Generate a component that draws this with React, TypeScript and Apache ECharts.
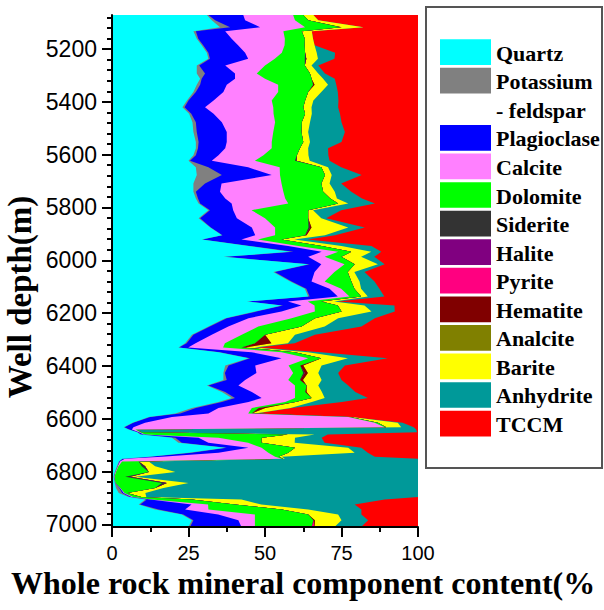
import React, { useEffect, useRef } from 'react';
import * as echarts from 'echarts';

// ---------- data ----------
const minerals = ['Quartz', 'Potassium - feldspar', 'Plagioclase', 'Calcite', 'Dolomite', 'Siderite', 'Halite', 'Pyrite', 'Hematite', 'Analcite', 'Barite', 'Anhydrite', 'TCCM'];
const legendLabels = ['Quartz', 'Potassium\n- feldspar', 'Plagioclase', 'Calcite', 'Dolomite', 'Siderite', 'Halite', 'Pyrite', 'Hematite', 'Analcite', 'Barite', 'Anhydrite', 'TCCM'];
const colors = ['#00FFFF', '#808080', '#0000FF', '#FF80FF', '#00FF00', '#333333', '#800080', '#FF0080', '#800000', '#808000', '#FFFF00', '#009999', '#FF0000'];

const depth = [
  5071, 5091, 5117, 5133, 5161, 5186, 5214, 5237, 5262, 5293,
  5312, 5335, 5363, 5395, 5420, 5445, 5477, 5514, 5552, 5576,
  5602, 5623, 5648, 5677, 5709, 5740, 5766, 5785, 5810, 5841,
  5876, 5905, 5921, 5946, 5968, 5987, 6015, 6044, 6080, 6108,
  6137, 6156, 6171, 6194, 6219, 6251, 6282, 6314, 6330, 6348,
  6371, 6398, 6427, 6453, 6474, 6499, 6521, 6537, 6559, 6580,
  6593, 6615, 6632, 6641, 6651, 6660, 6672, 6691, 6710, 6729,
  6744, 6752, 6762, 6780, 6802, 6820, 6843, 6862, 6881, 6896,
  6906, 6925, 6944, 6963, 6984, 7010,
];

const quartz = [
  31.0, 32.6, 35.3, 26.6, 27.7, 29.3, 31.0, 31.5, 27.7, 27.7,
  28.8, 27.7, 26.6, 24.5, 23.0, 25.2, 26.3, 26.6, 27.4, 27.4,
  26.6, 25.0, 27.4, 27.7, 26.6, 26.6, 27.4, 28.3, 31.5, 28.3,
  32.1, 35.9, 29.3, 44.6, 58.2, 36.4, 64.1, 52.7, 58.2, 63.0,
  64.1, 44.0, 55.4, 46.7, 37.0, 31.5, 26.1, 23.9, 21.7, 34.8,
  44.6, 37.0, 36.4, 36.4, 31.0, 35.9, 39.1, 34.8, 26.1, 20.7,
  12.0, 6.7, 3.8, 5.4, 8.2, 9.2, 19.6, 21.7, 37.0, 25.0,
  12.0, 3.3, 2.2, 1.6, 0.9, 0.5, 0.9, 1.3, 2.2, 5.4,
  10.9, 8.7, 14.1, 22.8, 26.1, 25.0,
];
const kFeldspar = [
  0.5, 1.1, 3.3, 0.8, 0.5, 0.5, 0.5, 0.5, 0.8, 2.7,
  0.5, 1.1, 0.8, 0.5, 0.7, 0.7, 1.1, 1.1, 0.9, 0.7,
  0.8, 0.5, 4.1, 8.2, 3.8, 0.8, 0.7, 0.5, 0.5, 0.5,
  0.2, 0.2, 0.2, 0.5, 1.1, 0.5, 0.5, 0.5, 0.5, 0.5,
  0.5, 0.5, 0.5, 0.5, 0.5, 0.5, 0.5, 0.5, 0.2, 0.5,
  0.5, 1.1, 0.5, 1.1, 0.5, 1.1, 1.1, 1.1, 1.3, 1.6,
  0.5, 0.3, 0.3, 0.2, 0.3, 0.3, 1.1, 1.1, 0.5, 1.1,
  0.5, 0.2, 0.2, 0.3, 0.2, 0.2, 0.2, 1.1, 1.1, 0.5,
  0.5, 0.5, 1.1, 0.5, 0.5, 0.5,
];
const plagioclase = [
  11.4, 9.8, 9.8, 9.6, 10.9, 11.4, 12.0, 12.5, 8.5, 9.8,
  10.9, 8.7, 9.0, 8.2, 6.7, 7.3, 8.5, 9.8, 9.2, 8.9,
  7.4, 7.1, 13.0, 16.3, 5.4, 7.9, 8.9, 10.3, 7.6, 12.0,
  13.4, 10.7, 12.8, 12.5, 9.2, 27.2, 3.8, 13.0, 6.5, 7.6,
  9.2, 13.0, 6.0, 8.2, 7.1, 6.0, 6.0, 2.9, 3.0, 10.3,
  10.3, 8.7, 10.3, 6.0, 9.8, 8.7, 8.7, 8.7, 7.4, 9.2,
  7.1, 3.8, 2.9, 0.9, 0.4, 0.8, 7.6, 8.7, 7.1, 8.7,
  3.8, 0.7, 0.2, 0.0, 0.0, 0.0, 0.0, 0.2, 0.5, 0.5,
  1.1, 16.8, 8.7, 11.4, 14.7, 16.8,
];
const calcite = [
  16.3, 16.3, 14.7, 19.0, 17.4, 15.2, 12.0, 8.7, 13.0, 7.1,
  9.8, 16.8, 17.9, 19.0, 22.3, 19.6, 17.4, 15.2, 14.7, 15.2,
  14.7, 14.1, 10.3, 2.7, 19.6, 20.7, 19.6, 18.5, 6.0, 9.2,
  7.6, 6.5, 5.4, 3.3, 5.4, 5.4, 7.6, 6.5, 4.3, 3.8,
  3.8, 6.5, 4.3, 10.9, 14.1, 9.8, 9.8, 9.6, 11.4, 9.8,
  8.7, 10.9, 12.0, 14.1, 18.5, 14.1, 10.9, 12.0, 10.9, 13.0,
  57.6, 75.0, 82.1, 1.1, 0.3, 0.5, 6.5, 13.0, 4.3, 16.3,
  37.0, 51.3, 0.7, 0.2, 0.2, 0.1, 0.0, 0.1, 0.3, 0.5,
  0.5, 5.4, 7.6, 12.0, 5.4, 4.4,
];
const dolomite = [
  3.3, 4.3, 11.5, 6.0, 6.5, 6.5, 7.6, 9.8, 13.0, 17.4,
  15.2, 11.4, 9.8, 10.9, 9.8, 10.3, 8.7, 9.2, 10.3, 9.2,
  10.9, 13.1, 13.6, 14.7, 13.0, 13.0, 14.7, 16.3, 18.5, 14.1,
  10.9, 9.8, 7.6, 7.6, 4.3, 5.4, 3.3, 4.3, 8.7, 4.3,
  3.8, 4.3, 7.6, 8.7, 7.6, 14.1, 7.6, 9.8, 6.0, 4.3,
  4.3, 3.8, 3.3, 3.8, 3.8, 3.3, 5.4, 3.3, 2.2, 1.1,
  0.5, 1.1, 0.5, 0.5, 0.5, 46.7, 14.1, 4.3, 10.9, 6.5,
  1.1, 0.5, 5.4, 7.6, 10.7, 3.5, 15.2, 11.4, 0.8, 2.7,
  13.0, 8.7, 23.9, 17.4, 19.1, 18.5,
];
const siderite = [
  0, 0, 0, 0, 0, 0, 0, 0.5, 0, 0,
  0, 0, 0, 0, 0, 0, 0, 0, 0, 0,
  0, 0.5, 0, 0, 0, 0, 0, 0, 0, 0,
  0.5, 0, 0, 0, 0, 0, 0, 0, 0, 0,
  0, 0, 0, 0, 0, 0, 0, 0, 0, 0,
  0, 0, 0.5, 0, 0, 0, 0, 0, 0, 0,
  0, 0, 0, 0, 0, 0, 0, 0, 0, 0,
  0, 0, 0, 1.1, 0, 1.6, 1.6, 0, 0, 0,
  0, 0, 0, 0, 0, 0,
];
const halite = [
  0, 0, 0, 0, 0, 0, 0, 0, 0, 0,
  0, 0, 0, 0, 0, 0, 0, 0, 0, 0,
  0, 0, 0, 0, 0, 0, 0, 0, 0, 0,
  0, 0, 0, 0, 0, 0, 0, 0, 0, 0,
  0, 0, 0, 0, 0, 0, 0, 0, 0, 0,
  0, 0, 0, 0, 0, 0, 0, 0, 0, 0,
  0, 0, 0, 0, 0, 0, 0, 0, 0, 0,
  0, 0, 0, 0, 0, 0, 0, 0, 0, 0,
  0, 0, 0, 0, 0, 0,
];
const pyrite = [
  0, 0, 0, 0, 0, 0, 0, 0, 0, 0,
  0, 0, 0, 0, 0, 0, 0, 0, 0, 0,
  0, 0, 0, 0, 0, 0, 0, 0, 0, 0,
  0, 0, 0, 0, 0, 0, 0, 0, 0, 0,
  0, 0, 0, 0, 0, 0, 0, 0, 0, 0,
  0, 0, 0, 0, 0, 0, 0, 0, 0, 0,
  0, 0, 0, 0, 0, 0, 0, 0, 0, 0,
  0, 0, 0, 0, 0, 0, 0, 0, 0, 0,
  0, 0, 0, 0, 0, 1.0,
];
const hematite = [
  0, 0, 0.5, 0, 0, 0, 0, 0, 0, 0,
  0, 0.5, 0, 0, 0, 0, 0, 0, 0, 0,
  0, 0, 0, 0, 0, 0, 0, 0, 0, 0,
  0.5, 0.5, 0, 0, 0, 0, 0, 0, 0, 0,
  0, 0, 0, 0, 0, 0, 0, 5.4, 1.0, 0,
  0, 1.0, 1.0, 1.0, 0, 0.5, 0, 0, 2.2, 0,
  0, 0, 0, 0, 0, 0, 0, 0, 0, 0,
  0, 0, 0, 0, 0, 0, 0, 0, 0, 0,
  0, 0, 0, 0, 0.5, 0,
];
const analcite = [
  0, 0, 0, 0, 0, 0, 0, 0, 0, 0,
  0, 0, 0, 0, 0, 0, 0, 0, 0, 0,
  0, 0, 0, 0, 0, 0, 0, 0, 0, 0,
  0, 0, 0, 0, 0, 0, 0, 0, 0, 0,
  0, 0, 0, 0, 0, 0, 0, 0, 0, 0,
  0, 0, 0, 0, 0, 0, 0, 0, 0, 0,
  0, 0, 0, 0, 0, 0, 0, 0, 0, 0,
  0, 0, 0, 0, 0, 0, 0, 0, 0, 0,
  0, 0, 0, 0, 0, 0,
];
const barite = [
  3.3, 3.3, 7.1, 3.3, 2.7, 3.3, 3.8, 3.8, 2.2, 2.7,
  3.8, 4.4, 4.3, 2.7, 2.7, 2.2, 2.7, 2.2, 2.2, 2.7,
  3.8, 4.3, 2.2, 2.2, 2.7, 3.8, 2.2, 3.3, 1.6, 4.3,
  12.0, 6.0, 4.3, 6.5, 6.5, 6.5, 7.6, 2.2, 2.7, 2.2,
  2.2, 4.3, 8.7, 9.8, 7.6, 7.6, 9.8, 5.4, 3.3, 4.3,
  8.7, 6.0, 3.4, 6.1, 3.8, 5.0, 4.3, 5.4, 8.2, 1.1,
  0.5, 6.5, 4.9, 0.0, 0.0, 8.7, 10.9, 10.9, 17.4, 21.7,
  1.1, 0.5, 3.3, 3.3, 8.7, 1.6, 7.1, 2.7, 6.0, 1.6,
  16.3, 8.7, 8.7, 9.8, 8.7, 6.5,
];
const anhydrite = [
  0, 0, 0, 0, 0, 0, 6.0, 5.4, 2.2, 2.2,
  3.8, 2.7, 5.4, 8.2, 8.7, 9.2, 10.3, 12.0, 10.3, 6.5,
  6.5, 6.5, 4.3, 9.8, 3.8, 5.4, 8.2, 8.7, 9.2, 1.6,
  5.4, 3.3, 4.3, 9.8, 3.3, 4.3, 2.2, 3.3, 4.9, 6.0,
  5.4, 1.1, 9.8, 7.6, 12.0, 12.0, 6.5, 2.2, 1.1, 4.3,
  13.0, 7.6, 6.5, 6.5, 9.8, 10.9, 14.1, 9.8, 0.5, 0.5,
  0.0, 1.6, 4.1, 91.3, 90.0, 4.3, 8.7, 9.8, 4.3, 4.3,
  30.4, 43.5, 88.0, 85.9, 79.3, 92.5, 75.0, 83.2, 89.1, 88.8,
  46.8, 30.5, 17.4, 7.6, 8.7, 8.7,
];
const tccm = [
  34.2, 32.6, 17.8, 34.7, 34.3, 33.8, 27.1, 27.3, 32.6, 30.4,
  27.2, 26.7, 26.2, 26.0, 26.1, 25.5, 25.0, 23.9, 25.0, 29.4,
  29.3, 28.9, 25.1, 18.4, 25.1, 21.8, 18.3, 14.1, 25.1, 30.0,
  17.4, 27.1, 36.1, 15.2, 12.0, 14.3, 10.9, 17.5, 14.2, 12.6,
  11.0, 26.3, 7.7, 7.6, 14.1, 18.5, 33.7, 40.3, 52.3, 31.7,
  9.9, 23.9, 26.1, 25.0, 22.8, 20.5, 16.4, 24.9, 41.2, 52.8,
  21.8, 5.0, 1.4, 0.6, 0.3, 29.5, 31.5, 30.5, 18.5, 16.4,
  14.1, 0, 0, 0, 0, 0, 0, 0, 0, 0,
  10.9, 20.7, 18.5, 18.5, 16.3, 18.6,
];

const yLabelValues = [5200, 5400, 5600, 5800, 6000, 6200, 6400, 6600, 6800, 7000];
const xMin = 0;
const xMax = 100;
const xInterval = 25;
const yMin = 5071;
const yMax = 7010;

const seriesValues = [quartz, kFeldspar, plagioclase, calcite, dolomite, siderite, halite, pyrite, hematite, analcite, barite, anhydrite, tccm];

const SANS = 'Arial, "Liberation Sans", sans-serif';
const SERIF = '"Times New Roman", "Liberation Serif", serif';

export default function App() {
  const ref = useRef<HTMLDivElement>(null);

  useEffect(() => {
    if (!ref.current) return;
    const chart = echarts.init(ref.current, null, { renderer: 'svg' });

    // cumulative right edges for each layer
    const cum: number[][] = [];
    seriesValues.forEach((vals, k) => {
      cum.push(vals.map((v, i) => (k === 0 ? 0 : cum[k - 1][i]) + v));
    });

    const yMinor: number[] = [];
    for (let v = Math.ceil(yMin / 40) * 40; v <= yMax; v += 40) yMinor.push(v);

    // painter's order: outermost (TCCM) first, quartz last
    const series: any[] = [];
    for (let k = minerals.length - 1; k >= 0; k--) {
      const edge = cum[k];
      series.push({
        type: 'custom',
        name: minerals[k],
        xAxisIndex: 0,
        yAxisIndex: 0,
        z: 2,
        clip: true,
        silent: true,
        encode: { x: 0, y: 1 },
        data: depth.map((d, i) => [edge[i], d]),
        renderItem: (params: any, api: any) => {
          if (params.dataIndex !== 0) return null;
          const pts: number[][] = [];
          pts.push(api.coord([0, depth[0]]));
          for (let i = 0; i < depth.length; i++) pts.push(api.coord([edge[i], depth[i]]));
          pts.push(api.coord([0, depth[depth.length - 1]]));
          return {
            type: 'polygon',
            shape: { points: pts },
            style: { fill: colors[k], stroke: null },
          };
        },
      });
    }

    // legend drawn as graphics
    const step = 28.57;
    const top0 = 39.3;
    const legendEls: any[] = [
      {
        type: 'rect',
        shape: { x: 426, y: 7, width: 176, height: 461 },
        style: { fill: '#ffffff', stroke: '#555555', lineWidth: 2 },
        z: 50,
      },
    ];
    legendLabels.forEach((lab, i) => {
      const row = i <= 1 ? i : i + 1;
      const top = top0 + row * step;
      legendEls.push({
        type: 'rect',
        shape: { x: 440, y: top, width: 51, height: 25.7 },
        style: { fill: colors[i] },
        z: 51,
      });
      const multi = lab.indexOf('\n') >= 0;
      legendEls.push({
        type: 'text',
        x: 496,
        y: multi ? top + 12.85 + step / 2 + 1 : top + 12.85 + 1,
        style: {
          text: lab,
          fill: '#000',
          font: `bold 22px ${SERIF}`,
          align: 'left',
          verticalAlign: 'middle',
          lineHeight: step,
        },
        z: 51,
      });
    });

    const axisNameEls: any[] = [
      {
        type: 'text',
        x: 11,
        y: 583,
        style: {
          text: 'Whole rock mineral component content(%',
          fill: '#000',
          font: `bold 32px ${SERIF}`,
          align: 'left',
          verticalAlign: 'middle',
        },
        z: 50,
      },
      {
        type: 'text',
        x: 20,
        y: 297,
        rotation: Math.PI / 2,
        style: {
          text: 'Well depth(m)',
          fill: '#000',
          font: `bold 33px ${SERIF}`,
          align: 'center',
          verticalAlign: 'middle',
        },
        z: 50,
      },
    ];

    chart.setOption({
      animation: false,
      backgroundColor: '#ffffff',
      grid: { left: 112, top: 15, width: 306, height: 512, containLabel: false },
      xAxis: {
        type: 'value',
        min: xMin,
        max: xMax,
        interval: xInterval,
        position: 'bottom',
        z: 10,
        axisLine: { show: true, onZero: false, lineStyle: { color: '#000', width: 2 } },
        axisTick: { show: true, inside: false, length: 10, lineStyle: { color: '#000', width: 2 } },
        minorTick: { show: true, splitNumber: 2, length: 5, lineStyle: { color: '#000', width: 2 } },
        axisLabel: { color: '#000', fontSize: 20, fontFamily: SANS, margin: 16, formatter: (v: number) => String(v) },
        splitLine: { show: false },
        minorSplitLine: { show: false },
      },
      yAxis: [
        {
          type: 'value',
          inverse: true,
          min: yMin,
          max: yMax,
          position: 'left',
          z: 10,
          axisLine: { show: true, onZero: false, lineStyle: { color: '#000', width: 2 } },
          axisTick: { show: true, length: 10, customValues: yLabelValues, lineStyle: { color: '#000', width: 2 } },
          axisLabel: {
            customValues: yLabelValues,
            color: '#000',
            fontSize: 23,
            fontFamily: SANS,
            margin: 15,
            formatter: (v: number) => String(v),
          },
          splitLine: { show: false },
        },
        {
          type: 'value',
          inverse: true,
          min: yMin,
          max: yMax,
          position: 'left',
          z: 10,
          axisLine: { show: false, onZero: false },
          axisTick: { show: true, length: 5, customValues: yMinor, lineStyle: { color: '#000', width: 2 } },
          axisLabel: { show: false },
          splitLine: { show: false },
        },
      ],
      series,
      graphic: { elements: [...legendEls, ...axisNameEls] },
    });

    return () => chart.dispose();
  }, []);

  return (
    <div
      ref={ref}
      style={{ position: 'fixed', left: 0, top: 0, width: 604, height: 610, background: '#fff' }}
    />
  );
}
